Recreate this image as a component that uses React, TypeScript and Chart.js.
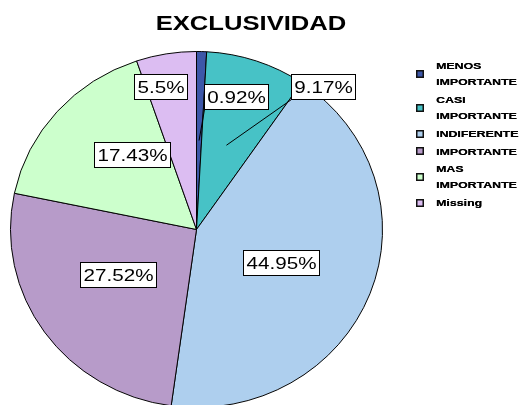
import React, { useEffect, useRef } from 'react';
import { Chart, registerables } from 'chart.js';

Chart.register(...registerables);

// ---- data ----
const chartTitle = 'EXCLUSIVIDAD';
const categories = ['MENOS IMPORTANTE', 'CASI IMPORTANTE', 'INDIFERENTE', 'IMPORTANTE', 'MAS IMPORTANTE', 'Missing'];
const legendLines = [['MENOS', 'IMPORTANTE'], ['CASI', 'IMPORTANTE'], ['INDIFERENTE'], ['IMPORTANTE'], ['MAS', 'IMPORTANTE'], ['Missing']];
const percentValues = [0.92, 9.17, 44.95, 27.52, 17.43, 5.5];
const percentLabels = ['0.92%', '9.17%', '44.95%', '27.52%', '17.43%', '5.5%'];

// ---- styles ----
const sliceColors = ['#3d57a8', '#47c2c6', '#aecfee', '#b79bc9', '#ccffcc', '#dcbdf2'];
const ELLIPSE_Y = 0.957;
// label placement per slice: radius fraction, angular shift (deg, clockwise), leader line
const labelPlacement = [
  { f: 0.777, d: 14.3, leader: true },
  { f: 1.05, d: 21.5, leader: true },
  { f: 0.49, d: 0.8, leader: false },
  { f: 0.49, d: 4.3, leader: false },
  { f: 0.544, d: 9, leader: false },
  { f: 0.826, d: -4, leader: false },
];

const FONT = '"Liberation Sans", Arial, sans-serif';

function drawScaledText(ctx: CanvasRenderingContext2D, text: string, x: number, y: number, sx: number, align: CanvasTextAlign, baseline: CanvasTextBaseline) {
  ctx.save();
  ctx.translate(x, y);
  ctx.scale(sx, 1);
  ctx.textAlign = align;
  ctx.textBaseline = baseline;
  ctx.fillText(text, 0, 0);
  ctx.restore();
}

const ellipsePlugin = {
  id: 'ellipse',
  beforeDatasetsDraw(chart: any) {
    const el = chart.getDatasetMeta(0).data[0];
    if (!el) return;
    const ctx = chart.ctx;
    ctx.save();
    ctx.translate(el.x, el.y);
    ctx.scale(1, ELLIPSE_Y);
    ctx.translate(-el.x, -el.y);
  },
  afterDatasetsDraw(chart: any) {
    chart.ctx.restore();
  },
};

const decorPlugin = {
  id: 'decor',
  afterDraw(chart: any) {
    const ctx: CanvasRenderingContext2D = chart.ctx;
    // title
    ctx.save();
    ctx.fillStyle = '#000';
    ctx.font = `bold 20px ${FONT}`;
    drawScaledText(ctx, chartTitle, 251, 30, 1.28, 'center', 'alphabetic');
    ctx.restore();

    // labels
    const meta = chart.getDatasetMeta(0);
    ctx.save();
    ctx.font = `16.5px ${FONT}`;
    const sx = 1.25;
    meta.data.forEach((arc: any, i: number) => {
      const p = arc.getProps(['x', 'y', 'startAngle', 'endAngle', 'outerRadius'], true);
      const mid = (p.startAngle + p.endAngle) / 2;
      const pl = labelPlacement[i];
      const a = mid + (pl.d * Math.PI) / 180;
      const cx = p.x + Math.cos(a) * pl.f * p.outerRadius;
      const cy = p.y + Math.sin(a) * pl.f * p.outerRadius * ELLIPSE_Y;
      const text = percentLabels[i];
      const tw = ctx.measureText(text).width * sx;
      const bw = Math.round(tw + 6);
      const bh = 25;
      const bx = Math.round(cx - bw / 2) + 0.5;
      const by = Math.round(cy - bh / 2) + 0.5;
      if (pl.leader) {
        const ax = p.x + Math.cos(mid) * 0.5 * p.outerRadius;
        const ay = p.y + Math.sin(mid) * 0.5 * p.outerRadius * ELLIPSE_Y;
        ctx.beginPath();
        ctx.moveTo(ax, ay);
        ctx.lineTo(bx, by + bh);
        ctx.strokeStyle = '#000';
        ctx.lineWidth = 1;
        ctx.stroke();
      }
      ctx.fillStyle = '#fff';
      ctx.fillRect(bx, by, bw, bh);
      ctx.strokeStyle = '#000';
      ctx.lineWidth = 1;
      ctx.strokeRect(bx, by, bw, bh);
      ctx.fillStyle = '#000';
      drawScaledText(ctx, text, bx + bw / 2, by + bh / 2 + 1.5, sx, 'center', 'middle');
    });
    ctx.restore();

    // legend
    ctx.save();
    ctx.font = `bold 9.5px ${FONT}`;
    const boxX = 416;
    const textX = 436;
    const lh = 15.8;
    const gap = 17.9;
    let y = 74 - (lh + gap) / 2;
    legendLines.forEach((lines, i) => {
      const h = (lines.length - 1) * lh + gap;
      const c = y + h / 2;
      const top = Math.round(c - 4);
      ctx.fillStyle = sliceColors[i];
      ctx.fillRect(boxX, top, 8, 8);
      ctx.strokeStyle = '#111';
      ctx.lineWidth = 1.5;
      ctx.strokeRect(boxX + 0.75, top + 0.75, 6.5, 6.5);
      ctx.fillStyle = '#000';
      lines.forEach((ln, j) => {
        const ty = c - ((lines.length - 1) * lh) / 2 + j * lh;
        drawScaledText(ctx, ln, textX, ty + 0.5, 1.3, 'left', 'middle');
        drawScaledText(ctx, ln, textX + 0.3, ty + 0.5, 1.3, 'left', 'middle');
      });
      y += h;
    });
    ctx.restore();
  },
};

export default function App() {
  const ref = useRef<HTMLCanvasElement | null>(null);
  useEffect(() => {
    document.body.style.margin = '0';
    const canvas = ref.current;
    if (!canvas) return;
    const chart = new Chart(canvas, {
      type: 'pie',
      data: {
        labels: categories,
        datasets: [
          {
            data: percentValues,
            backgroundColor: sliceColors,
            borderColor: '#000',
            borderWidth: 1,
          },
        ],
      },
      options: {
        responsive: false,
        animation: false,
        devicePixelRatio: 1,
        radius: 186,
        layout: { padding: { left: 10, top: 54, right: 140, bottom: 0 } },
        plugins: {
          legend: { display: false },
          title: { display: false },
          tooltip: { enabled: false },
        },
      },
      plugins: [ellipsePlugin, decorPlugin],
    });
    return () => chart.destroy();
  }, []);
  return (
    <div style={{ position: 'absolute', left: 0, top: 0, width: 523, height: 405, background: '#fff' }}>
      <canvas ref={ref} width={523} height={405} />
    </div>
  );
}
